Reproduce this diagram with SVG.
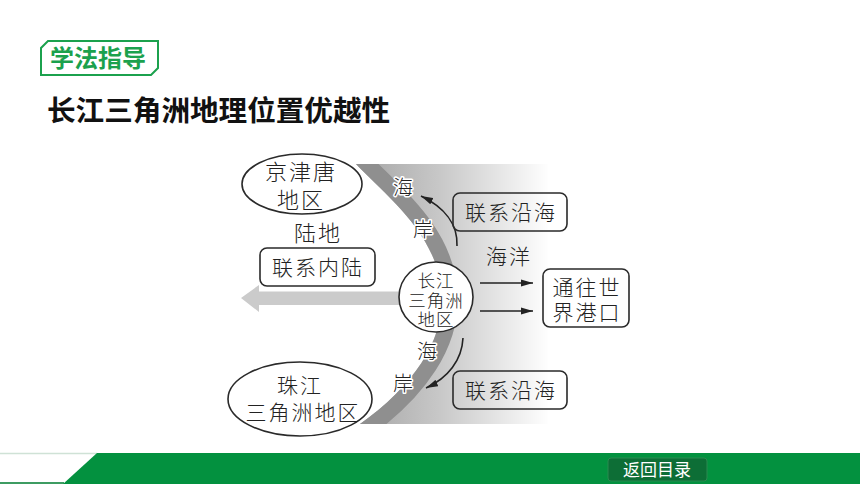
<svg xmlns="http://www.w3.org/2000/svg" width="860" height="484" viewBox="0 0 860 484">
<style>
.t{font-family:"Liberation Sans","Noto Sans CJK SC","Noto Sans CJK JP",sans-serif;font-weight:300;fill:#222;text-anchor:middle}
.box{fill:none;stroke:#2a2a2a;stroke-width:1.6}
.shape{fill:#fff;stroke:#2a2a2a;stroke-width:1.6}
.halo{paint-order:stroke;stroke:#fff;stroke-width:3;stroke-linejoin:round}
.con{fill:none;stroke:#222;stroke-width:1.6}
</style>
<defs>
<linearGradient id="sea" gradientUnits="userSpaceOnUse" x1="350" y1="0" x2="550" y2="0">
<stop offset="0" stop-color="#a2a2a2"/>
<stop offset="0.45" stop-color="#c8c8c8"/>
<stop offset="1" stop-color="#ffffff"/>
</linearGradient>
<clipPath id="seaClip">
<path d="M356 164 C385 195 440 235 442 297 C443 340 415 385 360 424 L548 424 L548 164 Z"/>
</clipPath>
<marker id="ah" markerUnits="userSpaceOnUse" markerWidth="13" markerHeight="8" refX="12" refY="4" orient="auto">
<path d="M0 0.5 L12 4 L0 7.5 Z" fill="#222"/>
</marker>
</defs>
<rect width="860" height="484" fill="#fff"/>
<g id="header">
<path d="M48 41 L158 41 L158 68 L151 75 L41 75 L41 48 Z" fill="#fff" stroke="#1ba14d" stroke-width="2"/>
<text x="98" y="67" font-family="Noto Sans CJK SC,sans-serif" font-weight="700" font-size="24" fill="#1ba14d" text-anchor="middle">学法指导</text>
<text x="47" y="121" font-family="Noto Sans CJK SC,sans-serif" font-weight="700" font-size="28.6" fill="#111">长江三角洲地理位置优越性</text>
</g>
<g id="sea-region">
<path d="M356 164 C385 195 440 235 442 297 C443 340 415 385 360 424 L548 424 L548 164 Z" fill="url(#sea)"/>
<path d="M356 164 C385 195 440 235 442 297 C443 340 415 385 360 424" fill="none" stroke="#8f8f8f" stroke-width="32" clip-path="url(#seaClip)"/>
</g>
<g id="inland-arrow">
<path d="M400 291.5 L259 291.5 L259 285 L241 298 L259 312 L259 305 L400 305 Z" fill="#cbcbcb"/>
</g>
<g id="connectors">
<path class="con" d="M457 246 C458 224 444 207 421 196" marker-end="url(#ah)"/>
<path class="con" d="M463 338 C462 360 448 378 426 388" marker-end="url(#ah)"/>
<line class="con" x1="480" y1="283" x2="533" y2="283" marker-end="url(#ah)"/>
<line class="con" x1="480" y1="311" x2="533" y2="311" marker-end="url(#ah)"/>
</g>
<g id="node-jingjintang">
<ellipse class="shape" cx="302" cy="184" rx="60" ry="30"/>
<text class="t" font-size="22" letter-spacing="2"><tspan x="301" y="180">京津唐</tspan><tspan x="301" y="208">地区</tspan></text>
</g>
<g id="node-zhujiang">
<ellipse class="shape" cx="300" cy="399" rx="72" ry="37"/>
<text class="t" font-size="21" letter-spacing="2"><tspan x="300" y="393">珠江</tspan><tspan x="303" y="420">三角洲地区</tspan></text>
</g>
<g id="node-changjiang">
<ellipse class="shape" cx="436" cy="297" rx="37" ry="35"/>
<text class="t" font-size="17.5" letter-spacing="1"><tspan x="436" y="287">长江</tspan><tspan x="436" y="306.5">三角洲</tspan><tspan x="436" y="326">地区</tspan></text>
</g>
<g id="node-neilu">
<rect class="box" x="260" y="248" width="115" height="38" rx="7"/>
<text class="t" x="318" y="275" font-size="21" letter-spacing="2">联系内陆</text>
</g>
<g id="node-yanhai-top">
<rect class="box" x="453" y="193" width="114" height="38" rx="7"/>
<text class="t" x="511" y="220" font-size="21" letter-spacing="2">联系沿海</text>
</g>
<g id="node-yanhai-bottom">
<rect class="box" x="453" y="371" width="114" height="38" rx="7"/>
<text class="t" x="511" y="398" font-size="21" letter-spacing="2">联系沿海</text>
</g>
<g id="node-gangkou">
<rect class="box" x="543" y="269" width="86" height="58" rx="7"/>
<text class="t" font-size="21" letter-spacing="2"><tspan x="587" y="295">通往世</tspan><tspan x="587" y="320">界港口</tspan></text>
</g>
<g id="labels">
<text class="t" x="318" y="241" font-size="22" letter-spacing="2">陆地</text>
<text class="t" x="509" y="264" font-size="21" letter-spacing="2">海洋</text>
<text class="t halo" x="403" y="195" font-size="20">海</text>
<text class="t halo" x="423" y="237" font-size="20">岸</text>
<text class="t halo" x="427" y="359" font-size="20">海</text>
<text class="t halo" x="403" y="391" font-size="20">岸</text>
</g>
<g id="footer">
<line x1="0" y1="453.5" x2="97" y2="453.5" stroke="#cfe2d6" stroke-width="1.5"/>
<line x1="0" y1="483" x2="64" y2="483" stroke="#3d9c62" stroke-width="2"/>
<path d="M97 453 L860 453 L860 484 L63 484 Z" fill="#03913f"/>
<rect x="608" y="458" width="99" height="23" rx="3" fill="#0d6e36" stroke="#2a8a50" stroke-width="1"/>
<text x="657" y="476" font-family="Noto Sans CJK SC,sans-serif" font-size="17" fill="#fff" text-anchor="middle">返回目录</text>
</g>
</svg>
